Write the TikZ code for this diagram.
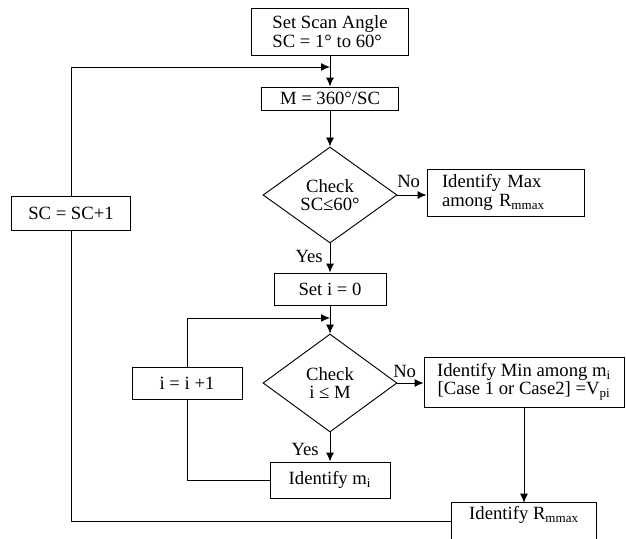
\documentclass[tikz,border=0pt]{standalone}
\usepackage{fontspec}
\setmainfont{Liberation Serif}
\usetikzlibrary{arrows.meta,shapes.geometric,calc}

\begin{document}
\begin{tikzpicture}[x=0.75pt,y=-0.75pt,
  every node/.style={font=\fontsize{14pt}{13.8pt}\selectfont},
  box/.style={draw, line width=0.7pt, inner sep=0pt, align=center},
  dia/.style={draw, diamond, line width=0.7pt, inner sep=0pt, align=center},
  lbl/.style={inner sep=0pt},
  ln/.style={line width=0.7pt},
  arr/.style={line width=0.7pt, -{Latex[length=6.75pt,width=6pt]}}]
\fill[white] (0,0) rectangle (626,539);
\useasboundingbox (0,0) rectangle (626,539);

% process boxes and decisions
\node[box, minimum width=117.75pt, minimum height=35.25pt, align=left] (scan) at (330,31.5) {Set Scan Angle\\SC = 1° to 60°};
\node[box, minimum width=102.75pt, minimum height=17.25pt] (m) at (330,98.5) {M = 360°/SC};
\node[dia, minimum width=100.5pt, minimum height=72pt] (d1) at (330,195) {Check\\SC≤60°};
\node[box, text width=95.25pt, inner xsep=11.25pt, minimum height=35.25pt, align=left] (max) at (505.5,192.5) {Identify Max\\among R\textsubscript{mmax}};
\node[box, minimum width=89.25pt, minimum height=25.5pt] (inc) at (71,213) {SC = SC+1};
\node[box, minimum width=84pt, minimum height=24pt] (seti) at (330,289) {Set i = 0};
\node[dia, minimum width=100.5pt, minimum height=73.5pt] (d2) at (330,383) {Check\\i ≤ M};
\node[box, minimum width=82.5pt, minimum height=24pt] (ii) at (187,383) {i = i +1};
\node[box, minimum width=150pt, minimum height=37.5pt] (min) at (524,382) {Identify Min among m\textsubscript{i}\\{}[Case 1 or Case2] =V\textsubscript{pi}};
\node[box, minimum width=90pt, minimum height=27pt] (mi) at (330,480) {Identify m\textsubscript{i}};
\node[inner sep=0pt, minimum width=108.75pt, minimum height=18pt] (rmax) at (524,515) {Identify R\textsubscript{mmax}};

% the last box runs off the lower edge
\coordinate (bot) at (0,539);
\draw[ln] (rmax.north west |- bot) -- (rmax.north west) -- (rmax.north east) -- (rmax.north east |- bot);

% junctions on the main column
\coordinate (j1) at (330,67);
\coordinate (j2) at (330,318);

% connectors
\draw[arr] (scan) -- (m);
\draw[ln] ($(rmax.north west)+(0,19)$) -| (inc.south);
\draw[arr] (inc.north) |- (j1);
\draw[arr] (m) -- (d1);
\draw[arr] (d1.east) -- (d1.east -| max.west);
\draw[arr] (d1) -- (seti);
\draw[arr] (seti) -- (d2);
\draw[arr] (d2.east) -- (d2.east -| min.west);
\draw[arr] (d2) -- (mi);
\draw[ln] (mi.west) -| (ii.south);
\draw[arr] (ii.north) |- (j2);
\draw[arr] (min) -- (rmax.north);

% branch labels
\node[lbl, anchor=base west] (no1) at (397,187) {No};
\node[lbl, anchor=base west] (no2) at (393,377) {No};
\node[lbl, anchor=base east] (yes1) at (323,262) {Yes};
\node[lbl, anchor=base east] (yes2) at (319,455) {Yes};
\end{tikzpicture}
\end{document}
